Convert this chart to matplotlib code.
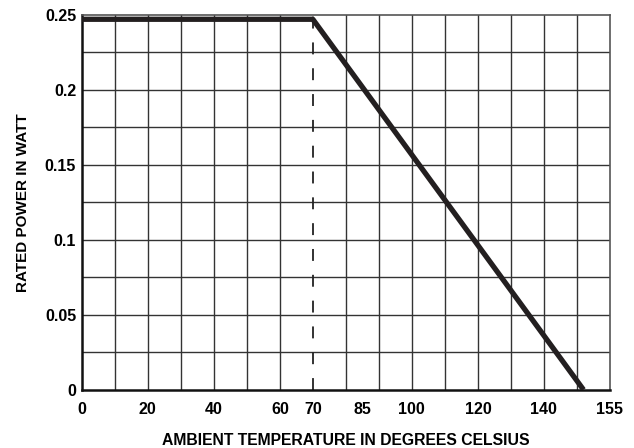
import numpy as np
import matplotlib.pyplot as plt

plt.rcParams['font.family'] = ['Liberation Sans', 'DejaVu Sans']
plt.rcParams['font.weight'] = 'bold'

# Derating curve
temps = [0, 70, 152]
power = [0.247, 0.247, 0.0]

# Axis ticks (grid every 10 deg, labels as printed on the chart)
x_tick_pos = [0, 20, 40, 60, 70, 85, 100, 120, 140, 160]
x_tick_labels = ['0', '20', '40', '60', '70', '85', '100', '120', '140', '155']
y_ticks = [0, 0.05, 0.1, 0.15, 0.2, 0.25]
y_tick_labels = ['0', '0.05', '0.1', '0.15', '0.2', '0.25']

fig = plt.figure(figsize=(6.34, 4.48), dpi=100)
ax = fig.add_axes([0.129, 0.13, 0.833, 0.837])

ax.set_xlim(0, 160)
ax.set_ylim(0, 0.25)

# grid, the 70 deg line is drawn dashed instead
for x in np.arange(10, 160, 10):
    if x != 70:
        ax.axvline(x, color='#333333', lw=1.0, zorder=1)
for y in np.arange(0.025, 0.25, 0.025):
    ax.axhline(y, color='#333333', lw=1.0, zorder=1)

ax.plot([70, 70], [0, 0.25], color='#222222', lw=1.3,
        linestyle=(0, (6.6, 7.7)), zorder=2)
ax.plot(temps, power, color='#231f20', lw=3.8, solid_capstyle='butt', zorder=3)

ax.set_xticks(x_tick_pos)
ax.set_xticklabels(x_tick_labels, fontsize=11.5, fontweight='bold')
ax.set_yticks(y_ticks)
ax.set_yticklabels(y_tick_labels, fontsize=11.5, fontweight='bold')
ax.tick_params(axis='x', length=0, pad=8.5)
ax.tick_params(axis='y', length=0, pad=4)

for side in ['left', 'bottom']:
    ax.spines[side].set_linewidth(1.8)
    ax.spines[side].set_color('#111111')
for side in ['top', 'right']:
    ax.spines[side].set_linewidth(1.2)
    ax.spines[side].set_color('#555555')

ax.set_xlabel('AMBIENT TEMPERATURE IN DEGREES CELSIUS', fontsize=11.3,
              fontweight='bold', labelpad=12)
ax.set_ylabel('RATED POWER IN WATT', fontsize=11, fontweight='bold', labelpad=11)

plt.savefig('out.png', dpi=100)
